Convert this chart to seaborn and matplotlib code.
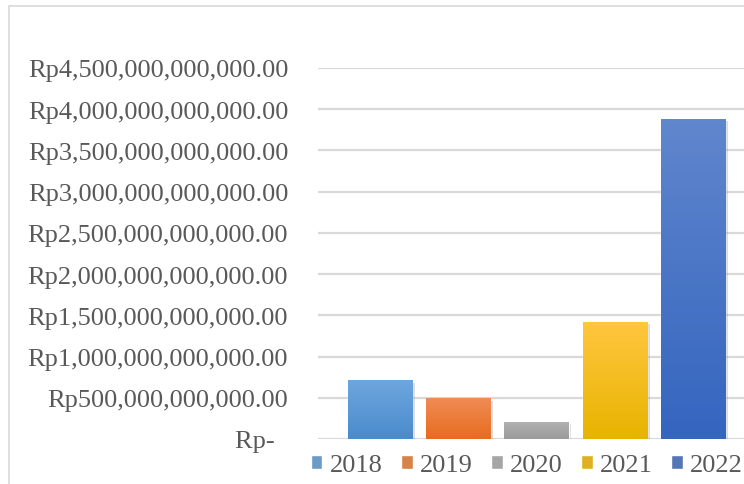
import numpy as np
import pandas as pd
import matplotlib
matplotlib.use("Agg")
import matplotlib.pyplot as plt
import matplotlib.patches as mpatches
import matplotlib.patheffects as pe
from matplotlib.colors import LinearSegmentedColormap
import seaborn as sns

# data
years  = ["2018", "2019", "2020", "2021", "2022"]
values = [0.704e12, 0.488e12, 0.206e12, 1.418e12, 3.879e12]
y_ticks = [0, 0.5e12, 1.0e12, 1.5e12, 2.0e12, 2.5e12, 3.0e12, 3.5e12, 4.0e12, 4.5e12]
y_tick_labels = ["Rp-  ", "Rp500,000,000,000.00", "Rp1,000,000,000,000.00",
                 "Rp1,500,000,000,000.00", "Rp2,000,000,000,000.00",
                 "Rp2,500,000,000,000.00", "Rp3,000,000,000,000.00",
                 "Rp3,500,000,000,000.00", "Rp4,000,000,000,000.00",
                 "Rp4,500,000,000,000.00"]

BASE   = ["#5B9BD5", "#ED7D31", "#A5A5A5", "#FFC000", "#4472C4"]
TOPS   = ["#6EA6DE", "#F08B55", "#B1B1B1", "#FFC63F", "#6086CD"]
BOTTOM = ["#4A8BCC", "#E86C1E", "#9B9B9B", "#E8B400", "#3465BF"]
TEXT   = "#595959"
GRID   = "#D9D9D9"

sns.set_style("white")
plt.rcParams["font.family"] = ["Liberation Serif", "DejaVu Serif"]
plt.rcParams["font.size"] = 19

df = pd.DataFrame({"year": years, "value": values})

fig = plt.figure(figsize=(7.44, 4.85), dpi=100)
ax = fig.add_axes([318 / 744, 45 / 485, 1 - 318 / 744, 371 / 485])

sns.barplot(data=df, x="year", y="value", hue="year", palette=BASE,
            width=0.82, dodge=False, legend=True, ax=ax, zorder=3)

# gradient fill + soft shadow on each bar
for patch, top, bot in zip(ax.patches, TOPS, BOTTOM):
    x, y = patch.get_x(), patch.get_y()
    w, h = patch.get_width(), patch.get_height()
    patch.set_path_effects([pe.SimplePatchShadow(offset=(2, -1.5), shadow_rgbFace="#8c8c8c", alpha=0.3),
                            pe.Normal()])
    cmap = LinearSegmentedColormap.from_list("g", [bot, top])
    grad = np.linspace(1, 0, 100).reshape(-1, 1)
    ax.imshow(grad, extent=[x, x + w, y, y + h], aspect="auto", cmap=cmap,
              vmin=0, vmax=1, zorder=3.5)

ax.set_xlim(-0.79, 4.65)
ax.set_ylim(0, 4.5e12)
ax.set_yticks(y_ticks)
ax.set_yticklabels(y_tick_labels, color=TEXT)
ax.set_xticks([])
ax.set_xlabel("")
ax.set_ylabel("")
ax.tick_params(axis="y", length=0, pad=21.5)
for s in ax.spines.values():
    s.set_visible(False)
ax.yaxis.grid(True, color=GRID, lw=1.6, zorder=0)
ax.set_axisbelow(True)

handles, labels = ax.get_legend_handles_labels()
ax.get_legend().remove()
fig.legend(handles, labels, loc="center", bbox_to_anchor=(0.708, 0.039),
           ncol=5, frameon=False, handlelength=0.45, handleheight=0.45,
           handletextpad=0.28, columnspacing=0.68, labelcolor=TEXT,
           borderaxespad=0, borderpad=0)

# chart area border (cropped on right/bottom)
fig.patches.append(mpatches.Rectangle((9 / 744, -0.1), 1.2, (485 - 7) / 485 + 0.1,
                                      transform=fig.transFigure, fill=False,
                                      edgecolor=GRID, lw=1.2, zorder=0))

fig.savefig("out.png", dpi=100, facecolor="white")
